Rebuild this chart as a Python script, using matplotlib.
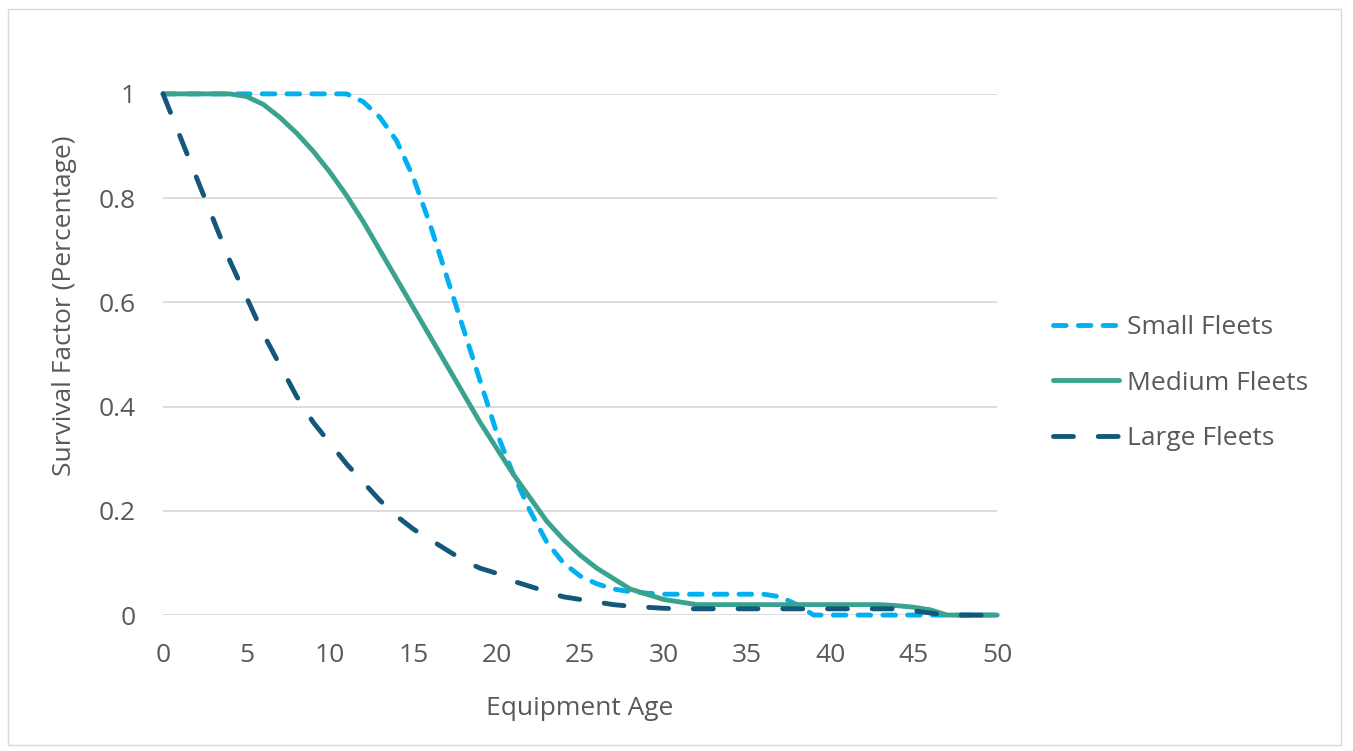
import numpy as np
import matplotlib.pyplot as plt
from matplotlib.patches import Rectangle
from matplotlib.ticker import FormatStrFormatter, MultipleLocator

plt.rcParams['font.family'] = ['Open Sans', 'DejaVu Sans']

# survival factor by equipment age
age = np.arange(0, 51)
small_fleets = [1.0, 1.0, 1.0, 1.0, 1.0, 1.0, 1.0, 1.0, 1.0, 1.0,
                1.0, 1.0, 0.985, 0.955, 0.91, 0.84, 0.75, 0.65, 0.55, 0.45,
                0.35, 0.27, 0.2, 0.14, 0.1, 0.075, 0.06, 0.05, 0.045, 0.042,
                0.04, 0.04, 0.04, 0.04, 0.04, 0.04, 0.04, 0.035, 0.02, 0.0,
                0.0, 0.0, 0.0, 0.0, 0.0, 0.0, 0.0, 0.0, 0.0, 0.0, 0.0]
medium_fleets = [1.0, 1.0, 1.0, 1.0, 1.0, 0.995, 0.98, 0.955, 0.925, 0.89,
                 0.85, 0.805, 0.755, 0.7, 0.645, 0.59, 0.535, 0.48, 0.425, 0.37,
                 0.32, 0.27, 0.225, 0.18, 0.145, 0.115, 0.09, 0.07, 0.05, 0.04,
                 0.03, 0.025, 0.02, 0.02, 0.02, 0.02, 0.02, 0.02, 0.02, 0.02,
                 0.02, 0.02, 0.02, 0.02, 0.018, 0.015, 0.01, 0.0, 0.0, 0.0, 0.0]
large_fleets = [1.0, 0.92, 0.84, 0.76, 0.68, 0.61, 0.54, 0.48, 0.42, 0.37,
                0.33, 0.29, 0.255, 0.22, 0.19, 0.165, 0.145, 0.125, 0.105, 0.09,
                0.08, 0.065, 0.055, 0.045, 0.035, 0.03, 0.025, 0.02, 0.017, 0.015,
                0.013, 0.012, 0.012, 0.012, 0.012, 0.012, 0.012, 0.012, 0.012, 0.012,
                0.012, 0.012, 0.012, 0.012, 0.012, 0.008, 0.004, 0.0, 0.0, 0.0, 0.0]

fig = plt.figure(figsize=(13.53, 7.51), dpi=100)
ax = fig.add_axes([0.1205, 0.181, 0.6165, 0.694])

# chart border
fig.patches.append(Rectangle((0.006, 0.008), 0.985, 0.98, transform=fig.transFigure,
                             fill=False, edgecolor='#d9d9d9', linewidth=1))

ax.plot(age, small_fleets, color='#00B0F0', lw=3.5, dashes=(2.6, 2.5),
        dash_capstyle='round', label='Small Fleets', clip_on=False)
ax.plot(age, medium_fleets, color='#3AA38F', lw=3.5, solid_capstyle='round',
        label='Medium Fleets', clip_on=False)
ax.plot(age, large_fleets, color='#13587B', lw=3.5, dashes=(4.1, 5.1),
        dash_capstyle='round', label='Large Fleets', clip_on=False)

ax.set_xlim(0, 50)
ax.set_ylim(0, 1)
ax.xaxis.set_major_locator(MultipleLocator(5))
ax.yaxis.set_major_locator(MultipleLocator(0.2))
ax.yaxis.set_major_formatter(FormatStrFormatter('%g'))
ax.grid(axis='y', color='#d9d9d9', linewidth=1.3)
ax.set_axisbelow(True)
for s in ax.spines.values():
    s.set_visible(False)
ax.tick_params(length=0, labelsize=19, labelcolor='#595959')
ax.tick_params(axis='x', pad=20)
ax.tick_params(axis='y', pad=20)

ax.set_xlabel('Equipment Age', fontsize=19, color='#595959', labelpad=20)
ax.set_ylabel('Survival Factor (Percentage)', fontsize=19, color='#595959')
ax.yaxis.set_label_coords(-0.103, 0.593)

fig.legend(loc='center left', bbox_to_anchor=(0.7605, 0.49), frameon=False,
           fontsize=19, labelcolor='#595959', handlelength=2.5, handletextpad=0.3,
           labelspacing=1.15)

plt.savefig('out.png', dpi=100)
